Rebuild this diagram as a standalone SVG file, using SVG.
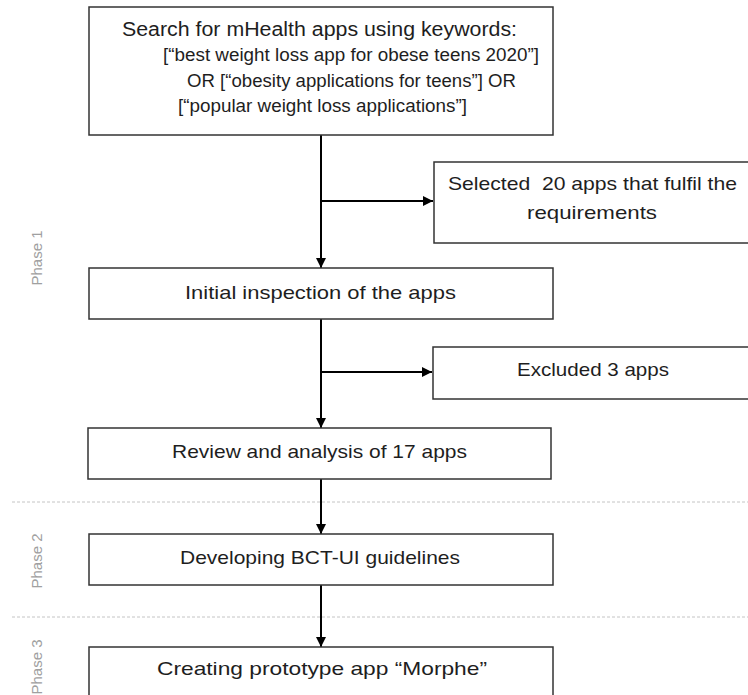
<svg xmlns="http://www.w3.org/2000/svg" width="748" height="695" viewBox="0 0 748 695">
  <defs>
    <marker id="arr" viewBox="0 0 10 10" refX="10" refY="5" markerWidth="5" markerHeight="5" markerUnits="strokeWidth" orient="auto">
      <path d="M0,0 L10,5 L0,10 z" fill="#000"/>
    </marker>
    <style>
      .box { fill: #fff; stroke: #333; stroke-width: 1.5; }
      .t { font-family: "Liberation Sans", Arial, sans-serif; fill: #1e1e1e; }
      .lbl { font-size: 19px; text-anchor: start; }
      .phase { font-family: "Liberation Sans", Arial, sans-serif; font-size: 15px; fill: #a0a0a0; text-anchor: middle; }
      .conn { stroke: #000; stroke-width: 2; fill: none; }
      .dash { stroke: #c4c4c4; stroke-width: 1; stroke-dasharray: 3 2; fill: none; }
    </style>
  </defs>
  <rect width="748" height="695" fill="#fff"/>

  <g id="separators">
    <line class="dash" x1="12" y1="502" x2="748" y2="502"/>
    <line class="dash" x1="12" y1="617" x2="748" y2="617"/>
  </g>

  <g id="phase-labels">
    <text class="phase" transform="translate(42,258) rotate(-90)">Phase 1</text>
    <text class="phase" transform="translate(42,561) rotate(-90)">Phase 2</text>
    <text class="phase" transform="translate(42,667) rotate(-90)">Phase 3</text>
  </g>

  <g id="connectors">
    <line class="conn" x1="321" y1="135" x2="321" y2="268" marker-end="url(#arr)"/>
    <line class="conn" x1="321" y1="201" x2="433" y2="201" marker-end="url(#arr)"/>
    <line class="conn" x1="321" y1="319" x2="321" y2="428" marker-end="url(#arr)"/>
    <line class="conn" x1="321" y1="372" x2="432" y2="372" marker-end="url(#arr)"/>
    <line class="conn" x1="321" y1="479" x2="321" y2="534" marker-end="url(#arr)"/>
    <line class="conn" x1="321" y1="585" x2="321" y2="647" marker-end="url(#arr)"/>
  </g>

  <g id="search">
    <rect class="box" x="89" y="7" width="464" height="128"/>
    <text class="t" font-size="20" x="122" y="36" textLength="395" lengthAdjust="spacingAndGlyphs">Search for mHealth apps using keywords:</text>
    <text class="t" font-size="17.5" x="163" y="61" textLength="376" lengthAdjust="spacingAndGlyphs">[“best weight loss app for obese teens 2020”]</text>
    <text class="t" font-size="17.5" x="187" y="87" textLength="329" lengthAdjust="spacingAndGlyphs">OR [“obesity applications for teens”] OR</text>
    <text class="t" font-size="17.5" x="178" y="112" textLength="289" lengthAdjust="spacingAndGlyphs">[“popular weight loss applications”]</text>
  </g>

  <g id="selected">
    <rect class="box" x="434" y="162" width="330" height="81"/>
    <text class="t lbl" x="448" y="190" textLength="289" lengthAdjust="spacingAndGlyphs" style="white-space:pre">Selected  20 apps that fulfil the</text>
    <text class="t lbl" x="527" y="219" textLength="130" lengthAdjust="spacingAndGlyphs">requirements</text>
  </g>

  <g id="initial">
    <rect class="box" x="89" y="268" width="464" height="51"/>
    <text class="t lbl" x="185" y="299" textLength="271" lengthAdjust="spacingAndGlyphs">Initial inspection of the apps</text>
  </g>

  <g id="excluded">
    <rect class="box" x="433" y="347" width="330" height="52"/>
    <text class="t lbl" x="517" y="376" textLength="152" lengthAdjust="spacingAndGlyphs">Excluded 3 apps</text>
  </g>

  <g id="review">
    <rect class="box" x="88" y="428" width="463" height="51"/>
    <text class="t lbl" x="172" y="458" textLength="295" lengthAdjust="spacingAndGlyphs">Review and analysis of 17 apps</text>
  </g>

  <g id="developing">
    <rect class="box" x="89" y="534" width="464" height="51"/>
    <text class="t lbl" x="180" y="564" textLength="280" lengthAdjust="spacingAndGlyphs">Developing BCT-UI guidelines</text>
  </g>

  <g id="creating">
    <rect class="box" x="89" y="647" width="464" height="60"/>
    <text class="t lbl" x="157" y="675" textLength="330" lengthAdjust="spacingAndGlyphs">Creating prototype app “Morphe”</text>
  </g>
</svg>
